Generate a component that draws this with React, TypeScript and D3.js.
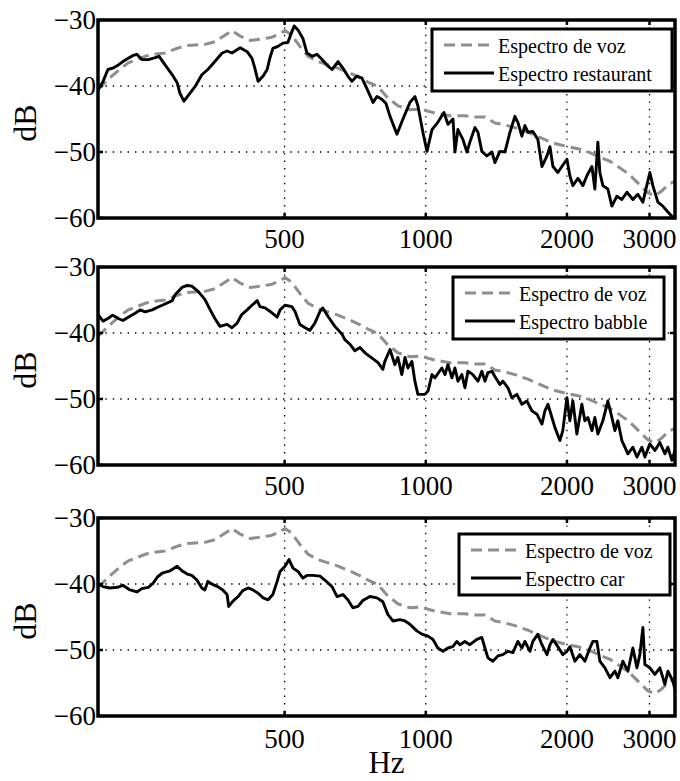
import React from 'react';
import * as d3 from 'd3';

// Long-term spectra (dB) vs frequency (Hz), log-frequency axis 200–3400 Hz
const xTickValues = [500, 1000, 2000, 3000];
const yTickValues = [-30, -40, -50, -60];
const gridDb = [-40, -50];

const speech: [number, number][] = [
  [200, -40.5], [207, -39.5], [214, -38.5], [223, -37.4], [232, -36.5], [242, -36.0], [252, -35.5],
  [264, -35.2], [278, -35.0], [292, -34.4], [307, -33.9], [322, -33.8], [338, -33.7], [355, -33.3],
  [373, -32.3], [386, -31.6], [401, -32.4], [422, -33.1], [447, -32.9], [470, -32.6], [489, -32.1],
  [501, -31.6], [518, -32.3], [539, -34.0], [561, -35.5], [589, -36.3], [619, -36.8], [650, -37.3],
  [682, -37.9], [717, -38.6], [753, -39.4], [791, -40.1], [830, -41.8], [872, -43.0], [925, -43.6],
  [972, -43.5], [1046, -44.1], [1126, -44.5], [1212, -44.5], [1273, -44.7], [1337, -44.7], [1404, -45.6],
  [1475, -45.9], [1549, -46.3], [1651, -47.0], [1751, -47.8], [1858, -48.6], [1980, -49.1], [2111, -49.5],
  [2239, -50.1], [2351, -50.8], [2470, -51.4], [2594, -52.4], [2724, -53.5], [2861, -55.0], [2976, -56.2],
  [3080, -56.6], [3187, -55.9], [3283, -55.0], [3400, -54.4],
];

const restaurant: [number, number][] = [
  [200, -40.6], [205, -39.3], [210, -37.5], [215, -37.3], [221, -36.8], [226, -36.3], [232, -35.8],
  [237, -35.4], [242, -35.2], [248, -36.0], [256, -36.0], [265, -35.7], [270, -35.5], [278, -36.8],
  [288, -38.3], [295, -39.5], [299, -41.1], [305, -42.3], [314, -41.1], [322, -40.1], [333, -38.3],
  [343, -37.5], [355, -36.3], [368, -35.0], [377, -34.7], [386, -35.0], [402, -34.2], [416, -34.8],
  [426, -35.8], [432, -37.3], [439, -39.3], [450, -38.5], [459, -37.5], [465, -35.8], [472, -34.3],
  [484, -34.0], [496, -33.5], [508, -33.4], [518, -31.8], [524, -30.9], [534, -31.5], [547, -32.8],
  [558, -35.0], [572, -35.5], [586, -35.2], [601, -36.0], [619, -37.0], [631, -37.5], [650, -36.3],
  [666, -37.3], [682, -38.5], [696, -39.3], [713, -38.5], [731, -38.8], [749, -40.4], [772, -42.5],
  [787, -41.6], [806, -42.0], [822, -42.6], [839, -44.6], [868, -47.3], [894, -45.0], [925, -42.5],
  [948, -41.6], [962, -43.0], [986, -47.0], [1006, -49.9], [1031, -46.6], [1061, -45.5], [1093, -44.0],
  [1115, -45.8], [1143, -45.0], [1154, -50.0], [1171, -46.6], [1200, -48.1], [1224, -50.0], [1242, -48.5],
  [1273, -46.3], [1292, -47.0], [1317, -49.9], [1350, -50.6], [1384, -50.0], [1404, -51.6], [1439, -49.9],
  [1475, -50.0], [1512, -47.0], [1549, -44.6], [1572, -45.5], [1603, -47.6], [1627, -46.0], [1651, -47.0],
  [1692, -46.9], [1734, -48.1], [1769, -52.2], [1813, -50.6], [1840, -49.2], [1867, -52.2], [1913, -53.1],
  [1951, -52.2], [2000, -51.1], [2029, -53.6], [2059, -55.1], [2111, -54.0], [2163, -55.1], [2206, -53.6],
  [2261, -52.2], [2294, -55.6], [2328, -48.5], [2351, -53.1], [2386, -55.1], [2445, -55.6], [2494, -58.2],
  [2556, -56.7], [2619, -57.2], [2685, -56.1], [2765, -57.2], [2833, -56.4], [2904, -57.6], [3005, -53.1],
  [3050, -55.1], [3126, -57.6], [3203, -58.2], [3283, -59.1], [3364, -59.9], [3400, -60.3],
];

const babble: [number, number][] = [
  [200, -37.2], [205, -38.2], [210, -37.8], [215, -37.3], [221, -37.8], [226, -38.1], [232, -37.6],
  [240, -37.0], [246, -36.5], [252, -36.8], [261, -36.5], [268, -36.1], [278, -35.6], [288, -35.1],
  [292, -34.2], [302, -33.1], [310, -32.8], [317, -32.9], [327, -33.7], [338, -34.9], [347, -36.5],
  [355, -37.8], [364, -39.0], [377, -38.7], [386, -39.2], [396, -38.5], [405, -37.2], [416, -36.5],
  [426, -35.8], [437, -35.1], [443, -36.0], [454, -36.2], [465, -36.7], [482, -37.6], [489, -36.5],
  [501, -35.8], [518, -36.0], [526, -36.7], [539, -38.7], [553, -39.2], [566, -39.6], [580, -38.5],
  [595, -36.7], [603, -36.2], [619, -37.5], [640, -39.0], [663, -40.2], [672, -41.0], [689, -41.7],
  [706, -42.7], [724, -42.2], [742, -43.0], [768, -43.8], [791, -44.5], [810, -45.5], [818, -44.3],
  [839, -42.5], [859, -44.8], [872, -43.7], [889, -46.3], [903, -43.7], [916, -45.3], [934, -44.3],
  [948, -47.3], [962, -49.3], [996, -49.3], [1011, -48.8], [1031, -46.3], [1046, -46.8], [1082, -45.3],
  [1099, -46.3], [1115, -44.8], [1137, -46.8], [1154, -45.3], [1171, -47.3], [1194, -46.3], [1212, -48.3],
  [1230, -45.8], [1260, -46.3], [1292, -47.3], [1317, -45.8], [1337, -47.3], [1357, -46.0], [1384, -45.8],
  [1404, -46.6], [1439, -47.8], [1460, -47.3], [1497, -48.3], [1526, -49.8], [1564, -49.3], [1603, -50.8],
  [1643, -50.3], [1684, -51.8], [1726, -52.3], [1769, -53.8], [1795, -51.8], [1822, -50.8], [1858, -52.8],
  [1885, -54.3], [1932, -56.3], [1960, -54.8], [2000, -49.8], [2029, -53.3], [2059, -50.3], [2100, -55.3],
  [2152, -50.8], [2184, -53.3], [2217, -52.8], [2261, -54.8], [2294, -52.8], [2328, -55.3], [2386, -53.3],
  [2445, -50.3], [2494, -52.8], [2531, -54.8], [2568, -53.3], [2619, -56.3], [2658, -57.3], [2698, -58.3],
  [2765, -57.3], [2820, -58.8], [2890, -57.3], [2933, -58.8], [3005, -56.8], [3080, -57.8], [3157, -56.6],
  [3235, -58.3], [3283, -57.3], [3348, -59.3], [3400, -57.8],
];

const car: [number, number][] = [
  [200, -39.9], [205, -40.4], [212, -40.6], [220, -40.5], [226, -40.2], [234, -40.9], [242, -41.2],
  [248, -40.7], [256, -40.5], [262, -39.9], [268, -38.9], [275, -38.3], [285, -38.0], [295, -37.3],
  [302, -38.0], [310, -38.5], [317, -38.7], [325, -39.4], [333, -40.6], [338, -40.9], [343, -39.6],
  [352, -40.1], [360, -40.4], [369, -40.9], [377, -41.6], [380, -43.4], [388, -42.6], [398, -41.9],
  [407, -41.0], [418, -40.6], [428, -40.9], [439, -41.4], [450, -42.1], [461, -42.4], [472, -41.6],
  [482, -39.6], [489, -38.1], [501, -37.3], [511, -36.3], [521, -37.6], [534, -38.1], [547, -39.1],
  [558, -38.7], [575, -38.7], [595, -38.8], [609, -39.4], [631, -40.4], [647, -41.9], [666, -41.6],
  [682, -42.4], [699, -43.6], [717, -43.4], [734, -42.5], [760, -41.9], [787, -42.1], [810, -42.7],
  [830, -44.6], [851, -45.6], [881, -45.4], [903, -45.6], [925, -46.1], [957, -47.1], [981, -47.6],
  [1011, -47.9], [1036, -48.4], [1061, -49.7], [1088, -50.2], [1115, -49.7], [1142, -49.5], [1165, -48.7],
  [1183, -49.2], [1212, -48.7], [1242, -49.2], [1285, -48.4], [1317, -48.1], [1337, -49.7], [1357, -51.2],
  [1390, -51.7], [1425, -50.9], [1460, -50.7], [1497, -50.2], [1534, -50.4], [1572, -48.7], [1603, -49.7],
  [1627, -48.7], [1668, -50.2], [1692, -48.7], [1734, -47.6], [1769, -49.2], [1813, -50.7], [1840, -49.2],
  [1867, -48.4], [1913, -49.5], [1960, -50.7], [2000, -50.2], [2029, -49.5], [2080, -51.7], [2131, -50.7],
  [2184, -51.7], [2239, -49.7], [2272, -48.7], [2317, -48.7], [2351, -51.7], [2410, -52.7], [2470, -54.2],
  [2531, -53.2], [2568, -54.2], [2632, -51.7], [2698, -53.2], [2765, -49.7], [2820, -52.7], [2861, -50.7],
  [2904, -46.6], [2933, -52.2], [3005, -52.7], [3080, -53.7], [3157, -52.7], [3235, -55.2], [3283, -53.2],
  [3364, -54.7], [3400, -56.0],
];

const speechLabel = 'Espectro de voz';
const noiseLabels = ['Espectro restaurant', 'Espectro babble', 'Espectro car'];
const noiseSeries = [restaurant, babble, car];

const FONT = '"Liberation Serif", "Times New Roman", Times, serif';
const PLOT_LEFT = 98;
const PLOT_RIGHT = 675;
const PANEL_TOPS = [20, 267, 518];
const PANEL_H = 198;
const GRAY = '#8e8e8e';

// legend box geometry per panel: left, top, width, height
const LEGENDS = [
  { x: 432, y: 29, w: 240, h: 62 },
  { x: 453, y: 277, w: 211, h: 62 },
  { x: 459, y: 534, w: 211, h: 61 },
];

const x = d3.scaleLog().domain([200, 3400]).range([PLOT_LEFT, PLOT_RIGHT]);

function Panel({ idx }: { idx: number }) {
  const top = PANEL_TOPS[idx];
  const bottom = top + PANEL_H;
  const y = d3.scaleLinear().domain([-60, -30]).range([bottom, top]);
  const line = d3
    .line<[number, number]>()
    .x((d) => x(d[0]))
    .y((d) => y(d[1]));
  const clipId = `clip-${idx}`;
  const lg = LEGENDS[idx];
  const isLast = idx === 2;
  return (
    <g>
      <defs>
        <clipPath id={clipId}>
          <rect x={PLOT_LEFT} y={top} width={PLOT_RIGHT - PLOT_LEFT} height={PANEL_H} />
        </clipPath>
      </defs>
      <rect x={PLOT_LEFT} y={top} width={PLOT_RIGHT - PLOT_LEFT} height={PANEL_H} fill="#fff" />
      {/* dotted grid */}
      {gridDb.map((v) => (
        <line key={`gy${v}`} x1={PLOT_LEFT} x2={PLOT_RIGHT} y1={y(v)} y2={y(v)}
          stroke="#000" strokeWidth={1.3} strokeDasharray="1.4 6" />
      ))}
      {xTickValues.map((v) => (
        <line key={`gx${v}`} x1={x(v)} x2={x(v)} y1={top} y2={bottom}
          stroke="#000" strokeWidth={1.3} strokeDasharray="1.4 6" />
      ))}
      <g clipPath={`url(#${clipId})`}>
        <path d={line(speech) ?? ''} fill="none" stroke={GRAY} strokeWidth={3}
          strokeDasharray="11 6" strokeLinejoin="round" />
        <path d={line(noiseSeries[idx]) ?? ''} fill="none" stroke="#000" strokeWidth={2.9}
          strokeLinejoin="round" />
      </g>
      {/* ticks (inward) */}
      {xTickValues.map((v) => (
        <g key={`tx${v}`}>
          <line x1={x(v)} x2={x(v)} y1={top} y2={top + 5} stroke="#000" strokeWidth={2.5} />
          <line x1={x(v)} x2={x(v)} y1={bottom} y2={bottom - 5} stroke="#000" strokeWidth={2.5} />
        </g>
      ))}
      {yTickValues.map((v) => (
        <g key={`ty${v}`}>
          <line x1={PLOT_LEFT} x2={PLOT_LEFT + 5} y1={y(v)} y2={y(v)} stroke="#000" strokeWidth={2.5} />
          <line x1={PLOT_RIGHT} x2={PLOT_RIGHT - 5} y1={y(v)} y2={y(v)} stroke="#000" strokeWidth={2.5} />
        </g>
      ))}
      <rect x={PLOT_LEFT} y={top} width={PLOT_RIGHT - PLOT_LEFT} height={PANEL_H}
        fill="none" stroke="#000" strokeWidth={3.5} />
      {/* tick labels */}
      {yTickValues.map((v) => (
        <text key={`ly${v}`} x={96} y={y(v) + 9} textAnchor="end" fontFamily={FONT} fontSize={27}>
          {`\u2212${Math.abs(v)}`}
        </text>
      ))}
      {xTickValues.map((v) => (
        <text key={`lx${v}`} x={x(v)} y={bottom + (isLast ? 32 : 30)} textAnchor="middle"
          fontFamily={FONT} fontSize={27}>
          {v}
        </text>
      ))}
      <text transform={`translate(36, ${top + PANEL_H / 2 + 4}) rotate(-90)`} textAnchor="middle"
        fontFamily={FONT} fontSize={32}>
        dB
      </text>
      {/* legend */}
      <rect x={lg.x} y={lg.y} width={lg.w} height={lg.h} fill="#fff" stroke="#000" strokeWidth={3} />
      <line x1={lg.x + 12} x2={lg.x + 62} y1={lg.y + 16} y2={lg.y + 16} stroke={GRAY}
        strokeWidth={3} strokeDasharray="11 6" />
      <line x1={lg.x + 12} x2={lg.x + 62} y1={lg.y + 44} y2={lg.y + 44} stroke="#000" strokeWidth={2.8} />
      <text x={lg.x + 66} y={lg.y + 24} fontFamily={FONT} fontSize={20}>{speechLabel}</text>
      <text x={lg.x + 66} y={lg.y + 52} fontFamily={FONT} fontSize={20}>{noiseLabels[idx]}</text>
    </g>
  );
}

export default function App() {
  return (
    <svg width={680} height={781} viewBox="0 0 680 781"
      style={{ position: 'absolute', left: 0, top: 0, background: '#fff' }}>
      <rect width={680} height={781} fill="#fff" />
      {[0, 1, 2].map((i) => (
        <Panel key={i} idx={i} />
      ))}
      <text x={(PLOT_LEFT + PLOT_RIGHT) / 2} y={773} textAnchor="middle" fontFamily={FONT} fontSize={31}>
        Hz
      </text>
    </svg>
  );
}
